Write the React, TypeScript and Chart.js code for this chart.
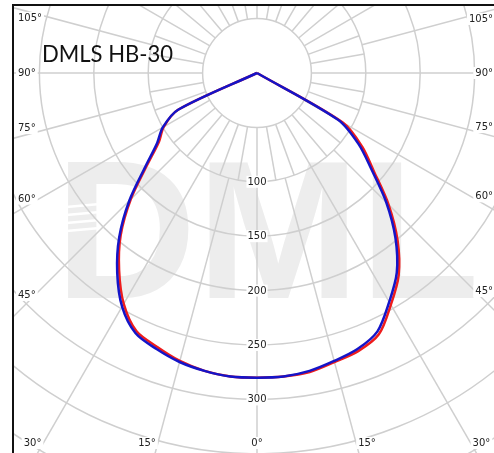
import React, { useEffect, useRef } from 'react';
import { Chart, registerables } from 'chart.js';

Chart.register(...registerables);

// ---- layout constants (not data) ----
const W = 494;
const H = 453;
const CENTER_X = 257;
const CENTER_Y = 73;
const PX_PER_CD = 1.088;
const FRAME_LEFT = 13;
const FRAME_TOP = 5;

// ---- data ----
const title = 'DMLS HB-30';
const watermarkText = 'DML';
const gammaAngles = [0, 5, 10, 15, 20, 25, 30, 35, 40, 45, 50, 55, 60, 65, 70, 75, 80, 85, 90];
// blue plane (C0 right / C180 left), cd
const blueRight = [280, 280, 278, 274, 270, 262, 243, 224, 198, 168, 137, 114, 86, 0, 0, 0, 0, 0, 0];
const blueLeft = [280, 280, 278, 275, 270, 264, 248, 224, 197, 166, 134, 112, 100, 80, 0, 0, 0, 0, 0];
// red plane (C90 right / C270 left), cd
const redRight = [280, 280, 279, 275, 272, 265, 246, 227, 201, 171, 140, 118, 91, 0, 0, 0, 0, 0, 0];
const redLeft = [280, 280, 278, 274, 268, 262, 245, 221, 195, 164, 132, 110, 99, 80, 0, 0, 0, 0, 0];
const ringValues = [50, 100, 150, 200, 250, 300, 350, 400, 450];
const ringLabelValues = [100, 150, 200, 250, 300];
const angleTickValues = [0, 15, 30, 45, 60, 75, 90, 105];
const minorSpokeStep = 10;
const majorSpokeStep = 15;

function planePoints(left: number[], right: number[]) {
  const pts: { x: number; y: number }[] = [];
  for (let i = gammaAngles.length - 1; i >= 0; i--) {
    const a = (gammaAngles[i] * Math.PI) / 180;
    pts.push({ x: -left[i] * Math.sin(a), y: left[i] * Math.cos(a) });
  }
  for (let i = 1; i < gammaAngles.length; i++) {
    const a = (gammaAngles[i] * Math.PI) / 180;
    pts.push({ x: right[i] * Math.sin(a), y: right[i] * Math.cos(a) });
  }
  return pts;
}

const polarGrid = {
  id: 'polarGrid',
  beforeDatasetsDraw(chart: any) {
    const { ctx, scales } = chart;
    const sx = scales.x;
    const sy = scales.y;
    const cx = sx.getPixelForValue(0);
    const cy = sy.getPixelForValue(0);
    const k = Math.abs(sx.getPixelForValue(100) - cx) / 100;
    const w = chart.width;
    const h = chart.height;

    ctx.save();
    ctx.beginPath();
    ctx.rect(FRAME_LEFT, FRAME_TOP, w - FRAME_LEFT, h - FRAME_TOP);
    ctx.clip();

    // watermark
    ctx.fillStyle = '#ededed';
    ctx.font = 'bold 196px "Liberation Sans", Arial, sans-serif';
    ctx.textAlign = 'left';
    ctx.textBaseline = 'alphabetic';
    ctx.fillText(watermarkText, 55, 298);
    ctx.strokeStyle = '#ffffff';
    ctx.lineWidth = 2.5;
    for (let i = 0; i < 4; i++) {
      ctx.beginPath();
      ctx.moveTo(55, 208 + i * 8);
      ctx.lineTo(100, 204 + i * 8);
      ctx.stroke();
    }

    // rings
    ctx.strokeStyle = '#cfcfcf';
    ctx.lineWidth = 1.5;
    ringValues.forEach((r) => {
      ctx.beginPath();
      ctx.arc(cx, cy, r * k, 0, Math.PI * 2);
      ctx.stroke();
    });

    const spoke = (deg: number, r0: number, r1: number) => {
      const a = (deg * Math.PI) / 180;
      ctx.beginPath();
      ctx.moveTo(cx + r0 * k * Math.sin(a), cy + r0 * k * Math.cos(a));
      ctx.lineTo(cx + r1 * k * Math.sin(a), cy + r1 * k * Math.cos(a));
      ctx.stroke();
    };
    for (let d = 0; d < 360; d += minorSpokeStep) spoke(d, ringValues[0], ringValues[1]);
    for (let d = 0; d < 360; d += majorSpokeStep) spoke(d, ringValues[1], 1200);

    // ring labels
    ctx.font = '10px "DejaVu Sans", sans-serif';
    ctx.textAlign = 'center';
    ctx.textBaseline = 'middle';
    ringLabelValues.forEach((v) => {
      const ty = cy + v * k;
      const s = String(v);
      const tw = ctx.measureText(s).width;
      ctx.fillStyle = '#ffffff';
      ctx.fillRect(cx - tw / 2 - 1, ty - 6, tw + 2, 12);
      ctx.fillStyle = '#222222';
      ctx.fillText(s, cx, ty + 0.5);
    });

    // angle labels
    const sideLeftX = 29;
    const sideRightX = w - 13;
    const bottomY = 443;
    const drawLabel = (s: string, x: number, y: number, align: CanvasTextAlign) => {
      ctx.textAlign = align;
      ctx.textBaseline = 'middle';
      const tw = ctx.measureText(s).width;
      let left = x;
      if (align === 'center') left = x - tw / 2;
      if (align === 'right') left = x - tw;
      ctx.fillStyle = '#ffffff';
      ctx.fillRect(left - 2, y - 6, tw + 4, 12);
      ctx.fillStyle = '#222222';
      ctx.fillText(s, x, y + 0.5);
    };
    angleTickValues.forEach((deg) => {
      const a = (deg * Math.PI) / 180;
      const sn = Math.sin(a);
      const cs = Math.cos(a);
      const s = deg + '\u00B0';
      [-1, 1].forEach((side) => {
        if (deg === 0 && side === 1) return;
        const dist = side < 0 ? cx - sideLeftX : sideRightX - cx;
        const tSide = sn > 1e-6 ? dist / sn : Infinity;
        const tBottom = cs > 1e-6 ? (bottomY - cy) / cs : Infinity;
        if (tBottom <= tSide) {
          const px = cx + side * tBottom * sn;
          if (deg === 0) drawLabel(s, px, bottomY, 'center');
          else if (side < 0) drawLabel(s, px - 2, bottomY, 'right');
          else drawLabel(s, px + 2, bottomY, 'left');
        } else {
          let py = cy + tSide * cs;
          if (deg < 90) py -= 6;
          else if (deg > 90) py += 6;
          if (side < 0) drawLabel(s, 18, py, 'left');
          else drawLabel(s, w - 1, py, 'right');
        }
      });
    });

    // title
    ctx.fillStyle = '#111111';
    ctx.font = '24px Lato, "Open Sans", sans-serif';
    ctx.textAlign = 'left';
    ctx.textBaseline = 'alphabetic';
    ctx.fillText(title, 42, 62, 131);

    ctx.restore();

    // frame
    ctx.save();
    ctx.strokeStyle = '#111111';
    ctx.lineWidth = 2;
    ctx.beginPath();
    ctx.moveTo(FRAME_LEFT, h);
    ctx.lineTo(FRAME_LEFT, FRAME_TOP);
    ctx.lineTo(w, FRAME_TOP);
    ctx.stroke();
    ctx.restore();
  },
};

export default function App() {
  const canvasRef = useRef<HTMLCanvasElement | null>(null);

  useEffect(() => {
    if (!canvasRef.current) return;
    const chart = new Chart(canvasRef.current, {
      type: 'scatter',
      data: {
        datasets: [
          {
            label: 'C0-C180',
            data: planePoints(blueLeft, blueRight),
            showLine: true,
            borderColor: '#1414c8',
            backgroundColor: '#1414c8',
            borderWidth: 2.5,
            pointRadius: 0,
            tension: 0.3,
          },
          {
            label: 'C90-C270',
            data: planePoints(redLeft, redRight),
            showLine: true,
            borderColor: '#ee1c1c',
            backgroundColor: '#ee1c1c',
            borderWidth: 2.5,
            pointRadius: 0,
            tension: 0.3,
          },
        ],
      },
      options: {
        animation: false,
        responsive: true,
        maintainAspectRatio: false,
        layout: { padding: 0 },
        plugins: { legend: { display: false }, tooltip: { enabled: false }, title: { display: false } },
        scales: {
          x: {
            type: 'linear',
            display: false,
            min: -CENTER_X / PX_PER_CD,
            max: (W - CENTER_X) / PX_PER_CD,
          },
          y: {
            type: 'linear',
            display: false,
            reverse: true,
            min: -CENTER_Y / PX_PER_CD,
            max: (H - CENTER_Y) / PX_PER_CD,
          },
        },
      },
      plugins: [polarGrid],
    });
    return () => chart.destroy();
  }, []);

  return (
    <div style={{ position: 'fixed', left: 0, top: 0, width: W, height: H, background: '#ffffff' }}>
      <canvas ref={canvasRef} />
    </div>
  );
}
